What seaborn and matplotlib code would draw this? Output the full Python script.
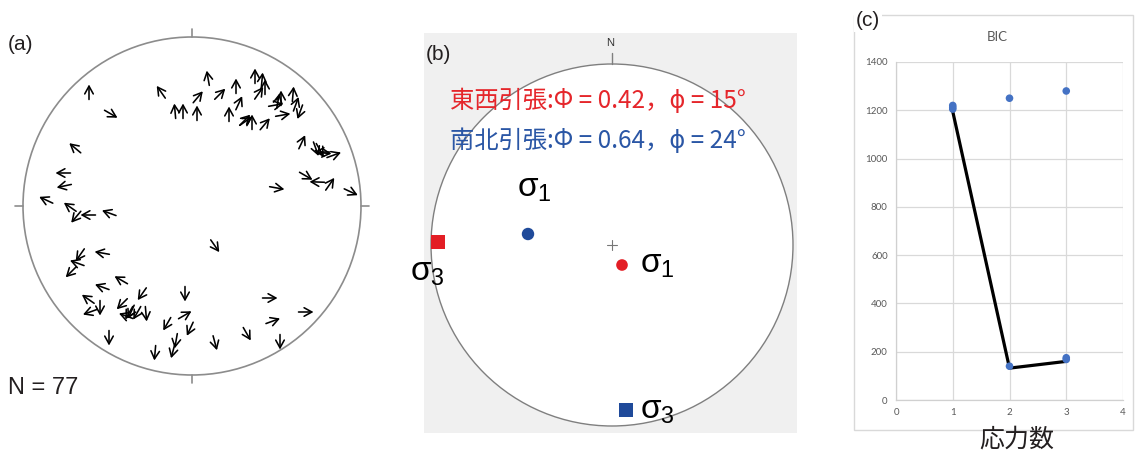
import numpy as np
import pandas as pd
import matplotlib
matplotlib.use("Agg")
import matplotlib.pyplot as plt
from matplotlib.patches import Circle, Rectangle
import seaborn as sns

W, H = 1135, 453

# (a) slip directions: position on the net (px from centre, east / north) and azimuth (deg)
arrow_x = [-31, -17, -9, 6, 5, 16, 28, 44, 47, 37, 54, 60, 63, 70, 73, 67, 73, 86, 84, 91,
           101, 104, 108, 110, 124, 132, 142, 130, 85, 114, 125, 138, 159, -117, -129, -128,
           -146, -122, -116, -104, -83, -112, -90, -115, -121, -71, -90, -104, -92, -102, -70,
           -50, -61, -55, -66, -46, -7, -7, -25, -2, -16, -19, -37, -83, 23, 55, 88, 78, 114,
           81, 23, -103, -81, 53, 89, 128, -63]
arrow_y = [114, 95, 95, 109, 93, 128, 112, 120, 103, 92, 85, 84, 130, 126, 119, 113, 82, 105,
           101, 91, 112, 102, 94, 64, 57, 53, 51, 54, 18, 30, 24, 22, 14, 58, 33, 20, 6, -1,
           -11, -9, -7, -49, -47, -57, -66, -74, -81, -93, -102, -106, -98, -88, -106, -107,
           -110, -108, -88, -109, -118, -123, -135, -145, -147, -132, -137, -128, -136, -92,
           -106, -115, -40, 114, 92, 86, 108, 56, -107]
arrow_az = [325, 355, 0, 40, 0, 350, 45, 0, 25, 0, 55, 0, 0, 5, 0, 35, 40, 10, 80, 80,
            5, 20, 200, 25, 160, 95, 70, 270, 100, 120, 272, 35, 115, 310, 270, 258,
            295, 305, 220, 270, 290, 215, 280, 290, 225, 300, 290, 305, 180, 250, 225,
            215, 205, 210, 290, 175, 180, 60, 210, 205, 190, 195, 185, 180, 165, 150, 180, 90,
            90, 70, 145, 0, 120, 45, 0, 150, 210]
n_text = "N = 77"

# (b) stress inversion result (px from net centre)
ew_label = "東西引張:Φ = 0.42，ϕ = 15°"
ns_label = "南北引張:Φ = 0.64，ϕ = 24°"
ew_sigma1 = (10, -20)
ew_sigma3 = (-174, 3)
ns_sigma1 = (-84, 11)
ns_sigma3 = (14, -165)

# (c) BIC vs number of stresses
bic_x = [1, 1, 1, 2, 2, 3, 3, 3]
bic_y = [1220, 1212, 1205, 1250, 140, 1280, 175, 168]
best_x = [1, 2, 3]
best_y = [1195, 132, 160]

RED = "#e5262b"
BLUE = "#2a56a5"
RED_MK = "#e31e25"
BLUE_MK = "#1f4a9a"

sns.set_style("white")
plt.rcParams["font.family"] = ["Liberation Sans", "DejaVu Sans"]
plt.rcParams["mathtext.fontset"] = "dejavusans"

fig = plt.figure(figsize=(W / 100, H / 100), dpi=100)


def fig_box(x0, y0, x1, y1):
    # pixel box (top-left origin) -> figure fraction rect
    return [x0 / W, 1 - y1 / H, (x1 - x0) / W, (y1 - y0) / H]


# ---------- (a) ----------
ax_a = fig.add_axes(fig_box(0, 0, 385, 453))
ax_a.set_xlim(-192, 193)
ax_a.set_ylim(-247, 206)
ax_a.axis("off")
R_a = 169
ax_a.add_patch(Circle((0, 0), R_a, fill=False, ec="#8c8c8c", lw=1.2))
for sx, sy in [(0, 1), (0, -1), (1, 0), (-1, 0)]:
    ax_a.plot([sx * R_a, sx * (R_a + 8)], [sy * R_a, sy * (R_a + 8)], color="#8c8c8c", lw=1.2)

L = 15
for x, y, az in zip(arrow_x, arrow_y, arrow_az):
    dx = 0.5 * L * np.sin(np.radians(az))
    dy = 0.5 * L * np.cos(np.radians(az))
    ax_a.annotate("", xy=(x + dx, y + dy), xytext=(x - dx, y - dy),
                  arrowprops=dict(arrowstyle="->,head_length=0.4,head_width=0.22",
                                  color="black", lw=1.15, mutation_scale=14,
                                  shrinkA=0, shrinkB=0))

ax_a.text(-184, 161, "(a)", fontsize=15, color="#231f20", ha="left", va="center")
ax_a.text(-184, -182, n_text, fontsize=17, color="#231f20", ha="left", va="center")

# ---------- (b) ----------
ax_b = fig.add_axes(fig_box(424, 33, 797, 433))
ax_b.set_xlim(-188, 185)
ax_b.set_ylim(-188, 212)
ax_b.set_facecolor("#f0f0f0")
ax_b.set_xticks([])
ax_b.set_yticks([])
for s in ax_b.spines.values():
    s.set_visible(False)
R_b = 181
ax_b.add_patch(Circle((0, 0), R_b, fc="white", ec="#7f7f7f", lw=1.0))
ax_b.plot([0, 0], [R_b, R_b + 11], color="#7f7f7f", lw=1.0)
ax_b.text(-2, 202, "N", fontsize=8, ha="center", va="center", color="#333333")
ax_b.plot([-5, 5], [0, 0], color="#777777", lw=0.8)
ax_b.plot([0, 0], [-5, 5], color="#777777", lw=0.8)

sns.scatterplot(x=[ew_sigma1[0]], y=[ew_sigma1[1]], marker="o", s=70, color=RED_MK,
                edgecolor="none", ax=ax_b, zorder=3)
sns.scatterplot(x=[ns_sigma1[0]], y=[ns_sigma1[1]], marker="o", s=80, color=BLUE_MK,
                edgecolor="none", ax=ax_b, zorder=3)
sns.scatterplot(x=[ew_sigma3[0]], y=[ew_sigma3[1]], marker="s", s=90, color=RED_MK,
                edgecolor="none", ax=ax_b, zorder=3)
sns.scatterplot(x=[ns_sigma3[0]], y=[ns_sigma3[1]], marker="s", s=90, color=BLUE_MK,
                edgecolor="none", ax=ax_b, zorder=3)

sig_kw = dict(fontsize=24, color="black", va="center", ha="left")
ax_b.text(ns_sigma1[0] - 11, ns_sigma1[1] + 45, r"$\mathregular{σ_1}$", **sig_kw)
ax_b.text(ew_sigma1[0] + 18, ew_sigma1[1] + 1, r"$\mathregular{σ_1}$", **sig_kw)
ax_b.text(ew_sigma3[0] - 28, ew_sigma3[1] - 30, r"$\mathregular{σ_3}$", **sig_kw)
ax_b.text(ns_sigma3[0] + 14, ns_sigma3[1] + 0, r"$\mathregular{σ_3}$", **sig_kw)

cjk = ["Noto Sans CJK JP", "DejaVu Sans"]
ax_b.text(-162, 144, ew_label, fontsize=17.5, color=RED, family=cjk, ha="left", va="center")
ax_b.text(-162, 104, ns_label, fontsize=17.5, color=BLUE, family=cjk, ha="left", va="center")
ax_b.text(-186, 191, "(b)", fontsize=15, color="#231f20", ha="left", va="center")

# ---------- (c) ----------
fig.add_artist(Rectangle((854 / W, 1 - 430 / H), (1133 - 854) / W, (430 - 15) / H,
                         transform=fig.transFigure, fill=False, ec="#d9d9d9", lw=1.0))
ax_c = fig.add_axes(fig_box(896, 62, 1123, 400))
bic = pd.DataFrame({"n": bic_x, "bic": bic_y})
best = pd.DataFrame({"n": best_x, "bic": best_y})
sns.lineplot(data=best, x="n", y="bic", color="black", lw=2.3, ax=ax_c, zorder=2)
sns.scatterplot(data=bic, x="n", y="bic", color="#4472c4", s=30, edgecolor="none",
                ax=ax_c, zorder=3)
ax_c.set_xlim(0, 4)
ax_c.set_ylim(0, 1400)
ax_c.set_xticks(range(0, 5))
ax_c.set_yticks(range(0, 1401, 200))
ax_c.grid(True, color="#d9d9d9", lw=0.9)
ax_c.set_axisbelow(True)
for side in ["top", "right"]:
    ax_c.spines[side].set_visible(False)
for side in ["left", "bottom"]:
    ax_c.spines[side].set_color("#d0d0d0")
    ax_c.spines[side].set_linewidth(0.9)
ax_c.tick_params(length=0, labelsize=7, labelcolor="#595959", pad=6)
for lab in ax_c.get_xticklabels() + ax_c.get_yticklabels():
    lab.set_family(["Lato", "DejaVu Sans"])
ax_c.set_xlabel("")
ax_c.set_ylabel("")

fig.text(997 / W, 1 - 37 / H, "BIC", fontsize=9.5, color="#595959", ha="center", va="center",
         family=["Lato", "DejaVu Sans"])
fig.text(1017 / W, 1 - 440 / H, "応力数", fontsize=18, color="#231f20", ha="center",
         va="center", family=cjk)
fig.text(868 / W, 1 - 20 / H, "(c)", fontsize=15, color="#231f20", ha="center", va="center",
         bbox=dict(fc="white", ec="none", pad=1.5))

fig.savefig("out.png", dpi=100)
